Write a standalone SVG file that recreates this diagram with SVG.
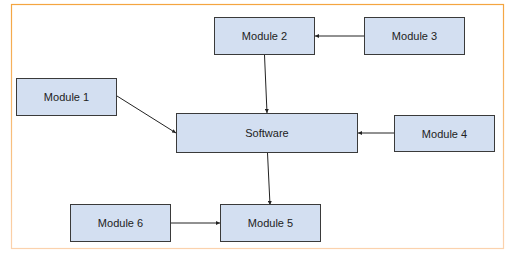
<svg xmlns="http://www.w3.org/2000/svg" width="512" height="253" viewBox="0 0 512 253">
<defs>
<linearGradient id="fr" x1="0" y1="0" x2="0" y2="1">
<stop offset="0" stop-color="#f4a540"/>
<stop offset="1" stop-color="#fbd2ad"/>
</linearGradient>
<marker id="ah" markerWidth="4" markerHeight="4" refX="4" refY="2" orient="auto" markerUnits="userSpaceOnUse">
<path d="M0,0 L4,2 L0,4 Z" fill="#222"/>
</marker>
<style>
.box{fill:#d3dff1;stroke:#3a3a3a;stroke-width:1}
.lbl{font-family:"Liberation Sans",Arial,sans-serif;font-size:11px;fill:#222;text-anchor:middle;dominant-baseline:central}
.con{stroke:#222;stroke-width:1;fill:none;marker-end:url(#ah)}
</style>
</defs>
<rect x="0" y="0" width="512" height="253" fill="#fff"/>
<rect x="11.5" y="4.5" width="492" height="244" fill="none" stroke="url(#fr)" stroke-width="1.2"/>
<g id="connectors">
<line class="con" x1="117" y1="96" x2="176" y2="133"/>
<line class="con" x1="264.5" y1="55" x2="267" y2="113"/>
<line class="con" x1="364" y1="36" x2="315" y2="36"/>
<line class="con" x1="394" y1="133" x2="358" y2="133"/>
<line class="con" x1="267.5" y1="153" x2="270" y2="205"/>
<line class="con" x1="171" y1="223" x2="220" y2="223"/>
</g>
<g id="module1"><rect class="box" x="16.5" y="78.5" width="100" height="37"/><text class="lbl" x="66.5" y="97">Module 1</text></g>
<g id="module2"><rect class="box" x="214.5" y="17.5" width="100" height="37"/><text class="lbl" x="264.5" y="36">Module 2</text></g>
<g id="module3"><rect class="box" x="364.5" y="17.5" width="100" height="37"/><text class="lbl" x="414.5" y="36">Module 3</text></g>
<g id="software"><rect class="box" x="176.5" y="113.5" width="181" height="39"/><text class="lbl" x="267" y="133">Software</text></g>
<g id="module4"><rect class="box" x="394.5" y="115.5" width="100" height="36"/><text class="lbl" x="444.5" y="133.5">Module 4</text></g>
<g id="module6"><rect class="box" x="70.5" y="204.5" width="100" height="37"/><text class="lbl" x="120.5" y="223">Module 6</text></g>
<g id="module5"><rect class="box" x="220.5" y="204.5" width="100" height="37"/><text class="lbl" x="270.5" y="223">Module 5</text></g>
</svg>
